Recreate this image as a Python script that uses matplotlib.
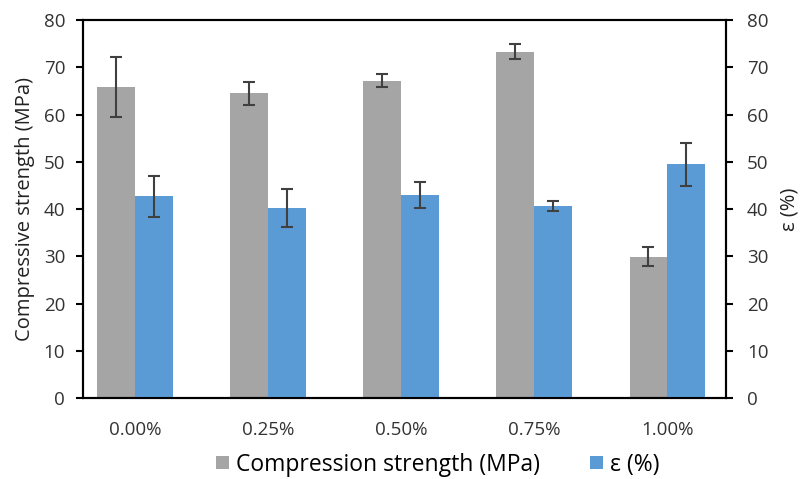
import matplotlib
matplotlib.use("Agg")
import matplotlib.pyplot as plt
import numpy as np

categories = ["0.00%", "0.25%", "0.50%", "0.75%", "1.00%"]
strength = [65.8, 64.5, 67.2, 73.3, 29.9]
strength_err = [6.3, 2.5, 1.4, 1.6, 2.0]
strain = [42.7, 40.3, 43.0, 40.7, 49.5]
strain_err = [4.3, 4.0, 2.8, 1.1, 4.6]

plt.rcParams['font.family'] = ['Open Sans', 'DejaVu Sans']

fig = plt.figure(figsize=(8.0, 4.79), dpi=100)
ax = fig.add_axes([0.104, 0.1685, 0.8035, 0.7895])
ax2 = ax.twinx()

x = np.arange(len(categories))
w = 0.285
gray = "#A5A5A5"
blue = "#5B9BD5"
ekw = dict(ecolor="#404040", elinewidth=1.5, capsize=4, capthick=1.5)

b1 = ax.bar(x - w/2, strength, w, color=gray, yerr=strength_err, error_kw=ekw,
            label="Compression strength (MPa)", zorder=2)
b2 = ax2.bar(x + w/2, strain, w, color=blue, yerr=strain_err, error_kw=ekw,
             label="ε (%)", zorder=2)

for a in (ax, ax2):
    a.set_ylim(0, 80)
    a.set_yticks(np.arange(0, 81, 10))
    for s in a.spines.values():
        s.set_color("black")
        s.set_linewidth(1.5)
    a.tick_params(axis='y', labelsize=13.5, length=5, width=1.5, colors="black",
                  labelcolor="#333333")
ax.tick_params(axis='y', pad=8)
ax2.tick_params(axis='y', pad=10)
ax.set_xlim(-0.39, 4.44)
ax.set_xticks(x)
ax.set_xticklabels(categories)
ax.tick_params(axis='x', length=0, labelsize=13.5, pad=16, labelcolor="#333333")

ax.set_ylabel("Compressive strength (MPa)", fontsize=14.5, color="#222222", labelpad=6)
ax2.set_ylabel("ε (%)", fontsize=14.5, color="#222222", labelpad=8)

fig.legend(handles=[b1, b2], loc="center", bbox_to_anchor=(0.547, 0.03),
           ncol=2, frameon=False, fontsize=16.5, handlelength=0.55, handleheight=0.55,
           handletextpad=0.3, columnspacing=2.2)

fig.savefig("out.png", dpi=100)
